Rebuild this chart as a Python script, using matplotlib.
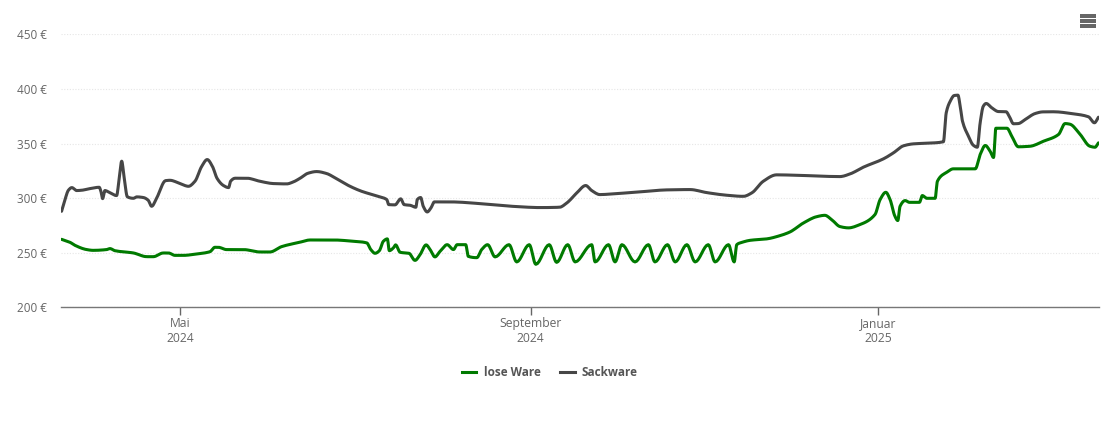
import numpy as np
import pandas as pd
import matplotlib
matplotlib.use("Agg")
import matplotlib.pyplot as plt
from matplotlib.lines import Line2D
from matplotlib.patches import Rectangle

plt.rcParams['font.family'] = ['Open Sans', 'DejaVu Sans']

start = pd.Timestamp("2024-03-20 05:00")
end_day = 364.2

# Sackware: Tage seit Start, Preis in Euro
sack_days = [0.2, 1.4, 2.6, 3.8, 5.5, 7.3, 10.2, 13.4, 14.0, 14.6, 15.4, 17.2, 19.5, 20.5, 21.3, 22.1, 23.3,
             25.4, 26.6, 28.9, 30.6, 31.8, 33.6, 36.7, 38.2, 41.8, 44.7, 47, 49.4, 51.3, 53.1, 54.8, 57, 58.8,
             59.5, 61.1, 65.2, 69.8, 74.5, 79.2, 81.5, 83.9, 86.7, 89.7, 93.2, 96.7, 101.4, 105.5, 111.9, 114.3,
             115, 117.2, 119.2, 120.4, 122.5, 124.5, 125, 126.2, 127.1, 128.5, 129.8, 131, 136.5, 148.2, 159.9,
             168.1, 174.9, 177.5, 181, 184.1, 186.2, 189.1, 193.8, 203.2, 212.5, 220.7, 226.6, 233.6, 239.4,
             242.4, 246.4, 251.1, 258.2, 273.3, 276.9, 281.5, 288.6, 292.1, 295.6, 299.1, 303.8, 309.6, 310.6,
             312, 313.4, 314.7, 315.5, 316.3, 318.4, 320.1, 321.5, 322.5, 323.6, 324.6, 326.6, 328.9, 331.6,
             332.7, 334.2, 335.9, 338.3, 341.8, 344.5, 348.2, 355.2, 360.5, 362.6, 364]
sack_prices = [287.9, 298.6, 307.2, 309.6, 306.9, 307.2, 308.7, 309.9, 306.2, 299.5, 306.9, 304.8, 302.3, 320, 333.8, 320, 301.1,
               299.8, 301.1, 300.5, 298, 292.5, 300.2, 316, 316.3, 313.3, 310.8, 315.4, 329.2, 335.3, 329.2, 317.9, 311.5, 309.6,
               315.4, 318.2, 318.2, 315.4, 313.3, 313, 314.8, 318.2, 322.8, 324.3, 322.5, 317.6, 310.8, 306.2, 301.1, 298.6,
               294, 293.8, 299.3, 294, 293.4, 291.6, 298.6, 300.5, 292.5, 287.3, 291, 296.5, 296.5, 294.7, 292.2,
               291.3, 291.6, 295.6, 304.8, 311.5, 306.9, 303.2, 303.9, 305.7, 307.5, 307.8, 305, 302.6, 301.6,
               304.8, 315.4, 321.3, 320.9, 319.7, 322.2, 328.3, 336, 341.5, 347.9, 349.7, 350.3, 351.6, 378.2,
               388.8, 394, 394.3, 384.2, 370.5, 356.7, 348.4, 346.6, 369, 384.2, 386.7, 382.7, 379.3, 379.1,
               375, 368.1, 368.3, 372, 377.5, 379, 379.1, 377.2, 374.5, 369, 374.1]

# lose Ware
lose_days = [0.2, 3.2, 4.9, 9, 11.3, 16, 17.2, 18.9, 25.4, 30.1, 32.4, 35.9, 37.7, 40, 42.9, 47.6, 52.3, 54, 55.2, 58.1,
             64, 69.8, 73.3, 77.4, 83.9, 87.4, 95.6, 101.4, 107.3, 108.7, 110.2, 111.7, 113.1, 114.5, 115.2, 116.6,
             117.4, 119, 122.1, 124.2, 126, 128.1, 129.5, 131.2, 133, 135.5, 137.7, 139, 142, 142.9, 145.9, 147.6,
             149.7, 152.3, 157.2, 159.9, 164.3, 166.6, 171.3, 173.9, 177.8, 180.4, 186.2, 187.4, 192.1, 194.4, 196.8,
             201.4, 206.1, 208.4, 212.8, 215.5, 219.6, 222.5, 227.1, 229.5, 234.2, 236.2, 237.1, 238.9, 241.8, 247.6,
             252.3, 255.8, 260.5, 265.2, 268, 270.5, 273.3, 276.3, 280.3, 285.6, 287.4, 289.4, 290.9, 292.6, 293.6, 294.4,
             296.2, 297.7, 301.2, 302.2, 303.8, 306.7, 307.5, 310.8, 313.1, 320.8, 322.5, 324.3, 326, 327.2, 328,
             331.9, 333.6, 335.9, 340, 344.7, 350, 352.3, 354, 357.6, 361, 362.8, 364]
lose_prices = [262.2, 259.4, 256.7, 252.8, 252.1, 252.8, 253.7, 251.8, 249.7, 246.3, 246.3, 249.7, 249.7, 247.5, 247.5, 248.8, 250.9, 254.9, 254.9, 252.8,
               252.8, 250.6, 250.6, 255.5, 259.6, 261.6, 261.6, 260.7, 258.9, 252.8, 249.4, 251.8, 260.4, 262.6, 251.8, 254.3,
               257.1, 250.3, 249.4, 242.9, 248.2, 257.1, 252.8, 246.1, 251.2, 257.3, 252.8, 257.3, 257.3, 246.6, 245.4, 252.8,
               257.3, 246.1, 257.3, 241.5, 257.3, 239.3, 257.3, 241.1, 257.3, 241.5, 257.3, 241.5, 257.3, 241.5, 257.3,
               241.5, 257.3, 241.5, 257.3, 241.5, 257.3, 241.5, 257.3, 241.5, 257.3, 241.5, 257.3, 259.4, 261.3, 262.6,
               265.6, 269, 277.2, 283, 284.2, 280, 273.9, 272.7, 275.7, 284.9, 298.6, 305.3, 298.6, 283.3, 279.4, 292.5,
               297.7, 296.1, 296.1, 302.3, 299.8, 299.8, 315.4, 323.7, 326.8, 326.8, 339.9, 348.2, 342.9, 337.2, 364,
               364, 356.7, 347, 347.5, 352.1, 358.3, 368.3, 367.7, 358.3, 347.5, 346.6, 350.6]

y_ticks = [200, 250, 300, 350, 400, 450]
x_tick_dates = ["2024-05-01", "2024-09-01", "2025-01-01"]
x_tick_labels = ["Mai\n2024", "September\n2024", "Januar\n2025"]

GREEN = "#007a00"
DARK = "#464646"
TEXT = "#666666"


def smooth(x, y, per_seg=8):
    # monotone Kurve wie im Original (weiche Linie ohne Ueberschwingen)
    x = np.array(x, dtype=float)
    y = np.array(y, dtype=float)
    h = np.diff(x)
    s = np.diff(y) / h
    m = np.zeros(len(x))
    for i in range(1, len(x) - 1):
        if s[i - 1] * s[i] > 0:
            w1 = 2 * h[i] + h[i - 1]
            w2 = h[i] + 2 * h[i - 1]
            m[i] = (w1 + w2) / (w1 / s[i - 1] + w2 / s[i])
    m[0], m[-1] = s[0], s[-1]
    t = np.linspace(0, 1, per_seg, endpoint=False)
    xs, ys = [], []
    for i in range(len(h)):
        xs.append(x[i] + t * h[i])
        ys.append((2*t**3 - 3*t**2 + 1) * y[i] + (t**3 - 2*t**2 + t) * h[i] * m[i]
                  + (-2*t**3 + 3*t**2) * y[i + 1] + (t**3 - t**2) * h[i] * m[i + 1])
    return np.concatenate(xs + [x[-1:]]), np.concatenate(ys + [y[-1:]])


W, H = 1110, 422
fig = plt.figure(figsize=(W / 100, H / 100), dpi=100)
ax = fig.add_axes([61 / W, 1 - 307.2 / H, (1099 - 61) / W, (307.2 - 34.4) / H])

ax.plot(*smooth(lose_days, lose_prices), color=GREEN, lw=2.2, solid_capstyle="round", solid_joinstyle="round", zorder=3)
ax.plot(*smooth(sack_days, sack_prices), color=DARK, lw=2.2, solid_capstyle="round", solid_joinstyle="round", zorder=3)

ax.set_xlim(0, end_day)
ax.set_ylim(200, 450)

ax.set_yticks(y_ticks)
ax.set_yticklabels([f"{v} €" for v in y_ticks], fontsize=8.5, color=TEXT)
ax.tick_params(axis="y", length=0, pad=10)

tick_pos = [(pd.Timestamp(d) - start).total_seconds() / 86400 for d in x_tick_dates]
ax.set_xticks(tick_pos)
ax.set_xticklabels(x_tick_labels, fontsize=8.7, color=TEXT, linespacing=1.2)
ax.tick_params(axis="x", length=6, width=1, color="#666666", pad=1)

ax.grid(axis="y", color="#e6e6e6", lw=0.8, ls=(0, (1, 1.5)))
ax.set_axisbelow(True)
for side in ["top", "right", "left"]:
    ax.spines[side].set_visible(False)
ax.spines["bottom"].set_color("#777777")
ax.spines["bottom"].set_linewidth(1)

handles = [Line2D([], [], color=GREEN, lw=2.2), Line2D([], [], color=DARK, lw=2.2)]
fig.legend(handles, ["lose Ware", "Sackware"], loc="center", bbox_to_anchor=(550 / W, 1 - 372.5 / H), ncol=2,
           frameon=False, handlelength=1.19, handletextpad=0.6, columnspacing=1.7,
           prop={"size": 8.5, "weight": "bold"}, labelcolor="#555555")

# Menue-Symbol oben rechts
for py in [16, 21, 26]:
    fig.add_artist(Rectangle((1080 / W, 1 - (py + 1.5) / H), 16 / W, 3 / H, transform=fig.transFigure,
                             facecolor="#666666", edgecolor="none"))

fig.savefig("out.png", dpi=100)
